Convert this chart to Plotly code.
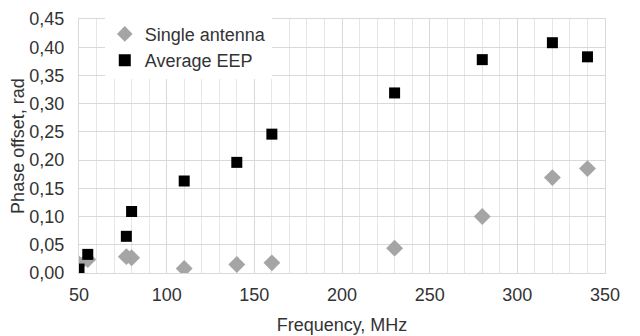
"""Phase offset vs frequency: single antenna vs average EEP."""
import plotly.graph_objects as go

# Frequencies in MHz
freq_mhz = [50, 55, 77, 80, 110, 140, 160, 230, 280, 320, 340]

# Phase offsets in rad
single_antenna = [0.016, 0.024, 0.029, 0.027, 0.008, 0.015, 0.018, 0.044, 0.100, 0.169, 0.185]
average_eep = [0.007, 0.033, 0.065, 0.109, 0.163, 0.196, 0.246, 0.319, 0.378, 0.408, 0.383]

FONT = "Liberation Sans, Arial, sans-serif"
TEXT = "#333333"
GRID = "#D9D9D9"

fig = go.Figure()

fig.add_trace(go.Scatter(
    x=freq_mhz,
    y=single_antenna,
    mode="markers",
    name="Single antenna",
    marker=dict(symbol="diamond", size=13, color="#A5A5A5"),
))

fig.add_trace(go.Scatter(
    x=freq_mhz,
    y=average_eep,
    mode="markers",
    name="Average EEP",
    marker=dict(symbol="square", size=11, color="#000000"),
))

# page body has an 8px default margin, so the figure is a bit smaller than the window
fig.update_layout(
    width=632,
    height=328,
    margin=dict(l=71, r=35, t=11, b=63, autoexpand=False),
    paper_bgcolor="white",
    plot_bgcolor="white",
    separators=", ",
    font=dict(family=FONT, size=18, color=TEXT),
    showlegend=True,
    legend=dict(
        x=0.049, y=1.013,
        xanchor="left", yanchor="top",
        bgcolor="rgba(255,255,255,1)",
        font=dict(family=FONT, size=18, color=TEXT),
        itemsizing="constant",
        tracegroupgap=0,
    ),
)

fig.update_xaxes(
    range=[50, 350],
    dtick=50,
    tick0=50,
    showgrid=True,
    gridcolor=GRID,
    gridwidth=1,
    minor=dict(dtick=10, showgrid=True, gridcolor="#E6E6E6", gridwidth=1),
    showline=True,
    linecolor=GRID,
    mirror=True,
    zeroline=False,
    ticks="",
    automargin=False,
    ticklabelstandoff=5,
    tickfont=dict(family=FONT, size=18, color=TEXT),
    title=dict(text="Frequency, MHz", font=dict(family=FONT, size=18, color=TEXT), standoff=14),
)

fig.update_yaxes(
    range=[0, 0.45],
    dtick=0.05,
    tickformat=".2f",
    showgrid=True,
    gridcolor=GRID,
    gridwidth=1,
    showline=True,
    linecolor=GRID,
    mirror=True,
    zeroline=False,
    ticks="",
    automargin=False,
    ticklabelstandoff=10,
    tickfont=dict(family=FONT, size=18, color=TEXT),
    title=dict(text="Phase offset, rad", font=dict(family=FONT, size=18, color=TEXT), standoff=4),
)

fig.write_html("out.html")
